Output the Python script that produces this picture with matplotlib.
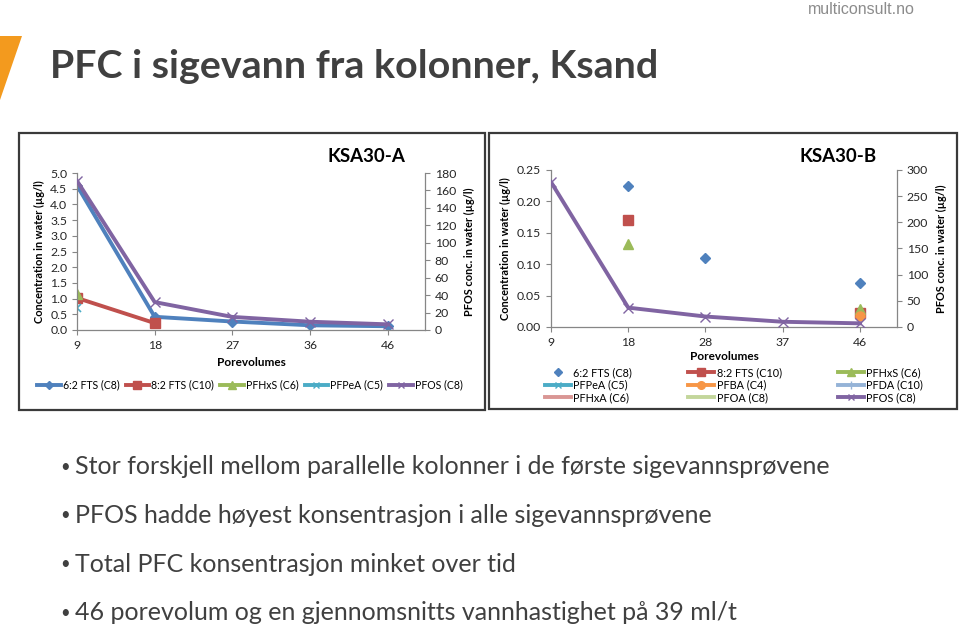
import matplotlib
matplotlib.use("Agg")
import matplotlib.pyplot as plt
import numpy as np
from matplotlib.patches import Rectangle, Polygon
from matplotlib.lines import Line2D

plt.rcParams['font.family'] = ['Lato', 'DejaVu Sans']

# ---------------- data ----------------
cats_a = ["9", "18", "27", "36", "46"]
a_fts62 = [4.6, 0.42, 0.27, 0.15, 0.12]
a_fts82 = [1.02, 0.22, np.nan, np.nan, np.nan]
a_pfhxs = [1.15, np.nan, np.nan, np.nan, np.nan]
a_pfpea = [0.70, np.nan, np.nan, np.nan, np.nan]
a_pfos = [171, 32, 15, 9.5, 6.5]

cats_b = ["9", "18", "28", "37", "46"]
b_fts62 = [np.nan, 0.225, 0.11, np.nan, 0.07]
b_fts82 = [np.nan, 0.17, np.nan, np.nan, 0.022]
b_pfhxs = [np.nan, 0.132, np.nan, np.nan, 0.028]
b_pfba = [np.nan, np.nan, np.nan, np.nan, 0.018]
b_pfos = [277, 37, 20, 10, 7]

title = "PFC i sigevann fra kolonner, Ksand"
bullets = [
    "Stor forskjell mellom parallelle kolonner i de første sigevannsprøvene",
    "PFOS hadde høyest konsentrasjon i alle sigevannsprøvene",
    "Total PFC konsentrasjon minket over tid",
    "46 porevolum og en gjennomsnitts vannhastighet på 39 ml/t",
]

C_BLUE = "#4F81BD"; C_RED = "#C0504D"; C_GREEN = "#9BBB59"; C_CYAN = "#4BACC6"
C_PURPLE = "#8064A2"; C_ORANGE = "#F79646"; C_LBLUE = "#95B3D7"; C_PINK = "#D99694"
C_LGREEN = "#C3D69B"
AXC = "#868686"

W, H = 960, 627
fig = plt.figure(figsize=(W / 100, H / 100), dpi=100)
fig.patch.set_facecolor("white")

def fx(px):
    return px / W

def fy(py):
    return 1 - py / H

# slide decoration
fig.patches.append(Polygon([[fx(0), fy(36)], [fx(22), fy(36)], [fx(0), fy(100)]],
                           closed=True, transform=fig.transFigure, facecolor="#F39A1E",
                           edgecolor="none"))
fig.text(fx(915), fy(10), "multiconsult.no", ha="right", va="center", fontsize=11.5,
         color="#8C8C8C", family=["Liberation Sans Narrow", "Liberation Sans", "DejaVu Sans"])
fig.text(fx(50), fy(66), title, ha="left", va="center", fontsize=28.4, fontweight="bold",
         color="#404040")

# panel borders
for (x0, y0, x1, y1) in [(19, 133, 485, 410), (489, 133, 957, 409)]:
    fig.patches.append(Rectangle((fx(x0), fy(y1)), fx(x1 - x0), (y1 - y0) / H,
                                 transform=fig.transFigure, fill=False,
                                 edgecolor="#3A3A3A", linewidth=1.6))


def style_axes(ax, ax2):
    for a in (ax, ax2):
        a.spines['top'].set_visible(False)
        for s in ('left', 'right', 'bottom'):
            a.spines[s].set_color(AXC)
            a.spines[s].set_linewidth(0.9)
        a.tick_params(colors="#262626", labelsize=8.8, length=3.5, width=0.8)
        a.tick_params(axis='both', color=AXC)
    ax.spines['right'].set_visible(False)
    ax2.spines['left'].set_visible(False)
    ax2.spines['bottom'].set_visible(False)
    ax.set_xlim(0, 4.48)
    ax.tick_params(axis='x', pad=4)


lw = 2.8

# ---------------- KSA30-A ----------------
axA = fig.add_axes([fx(77), fy(330), fx(425 - 77), (330 - 173) / H])
axA.set_facecolor("none")
axA2 = axA.twinx()
xa = np.arange(len(cats_a))
axA.plot(xa, a_fts62, color=C_BLUE, lw=lw, marker="D", ms=5)
axA.plot(xa, a_fts82, color=C_RED, lw=lw, marker="s", ms=7)
axA.plot(xa, a_pfhxs, color=C_GREEN, lw=lw, marker="^", ms=7)
axA.plot(xa, a_pfpea, color=C_CYAN, lw=lw, marker="x", ms=6, mew=1.2)
axA2.plot(xa, a_pfos, color=C_PURPLE, lw=lw, marker="x", ms=7, mew=1.0)
axA.set_ylim(0, 5.0)
axA.set_yticks(np.arange(0, 5.01, 0.5))
axA.set_yticklabels([f"{v:.1f}" for v in np.arange(0, 5.01, 0.5)])
axA2.set_ylim(0, 180)
axA2.set_yticks(np.arange(0, 181, 20))
axA.set_xticks(xa)
axA.set_xticklabels(cats_a)
style_axes(axA, axA2)
axA.set_ylabel("Concentration in water (µg/l)", fontsize=7.9, fontweight="bold", labelpad=4)
axA2.set_ylabel("PFOS conc. in water (µg/l)", fontsize=7.9, fontweight="bold", labelpad=6)
axA.set_xlabel("Porevolumes", fontsize=8.5, fontweight="bold", labelpad=4)
fig.text(fx(366), fy(156), "KSA30-A", ha="center", va="center", fontsize=13.5,
         fontweight="bold", color="black")

hA = [Line2D([], [], color=C_BLUE, lw=lw, marker="D", ms=4.5),
      Line2D([], [], color=C_RED, lw=lw, marker="s", ms=6),
      Line2D([], [], color=C_GREEN, lw=lw, marker="^", ms=6),
      Line2D([], [], color=C_CYAN, lw=lw, marker="x", ms=5),
      Line2D([], [], color=C_PURPLE, lw=lw, marker="x", ms=5)]
lA = ["6:2 FTS (C8)", "8:2 FTS (C10)", "PFHxS (C6)", "PFPeA (C5)", "PFOS (C8)"]
fig.legend(hA, lA, loc="center", bbox_to_anchor=(fx(250), fy(385)), ncol=5, frameon=False,
           fontsize=7.6, handlelength=2.2, handletextpad=0.2, columnspacing=0.6)

# ---------------- KSA30-B ----------------
axB = fig.add_axes([fx(551), fy(327), fx(897 - 551), (327 - 170) / H])
axB.set_facecolor("none")
axB2 = axB.twinx()
xb = np.arange(len(cats_b))
axB.plot(xb, b_fts62, color=C_BLUE, lw=0, marker="D", ms=5.5)
axB.plot(xb, b_fts82, color=C_RED, lw=lw, marker="s", ms=7.5)
axB.plot(xb, b_pfhxs, color=C_GREEN, lw=lw, marker="^", ms=7.5)
axB.plot(xb, b_pfba, color=C_ORANGE, lw=lw, marker="o", ms=6.5)
axB2.plot(xb, b_pfos, color=C_PURPLE, lw=lw, marker="x", ms=7, mew=1.0)
axB.set_ylim(0, 0.25)
axB.set_yticks(np.arange(0, 0.251, 0.05))
axB.set_yticklabels([f"{v:.2f}" for v in np.arange(0, 0.251, 0.05)])
axB2.set_ylim(0, 300)
axB2.set_yticks(np.arange(0, 301, 50))
axB.set_xticks(xb)
axB.set_xticklabels(cats_b)
style_axes(axB, axB2)
axB.set_ylabel("Concentration in water (µg/l)", fontsize=7.9, fontweight="bold", labelpad=4)
axB2.set_ylabel("PFOS conc. in water (µg/l)", fontsize=7.9, fontweight="bold", labelpad=6)
axB.set_xlabel("Porevolumes", fontsize=8.5, fontweight="bold", labelpad=2)
fig.text(fx(838), fy(156), "KSA30-B", ha="center", va="center", fontsize=13.5,
         fontweight="bold", color="black")

hB = [Line2D([], [], color=C_BLUE, lw=0, marker="D", ms=4.5),
      Line2D([], [], color=C_RED, lw=lw, marker="s", ms=6),
      Line2D([], [], color=C_GREEN, lw=lw, marker="^", ms=6),
      Line2D([], [], color=C_CYAN, lw=lw, marker="x", ms=5),
      Line2D([], [], color=C_ORANGE, lw=lw, marker="o", ms=5.5),
      Line2D([], [], color=C_LBLUE, lw=lw, marker="|", ms=6),
      Line2D([], [], color=C_PINK, lw=lw),
      Line2D([], [], color=C_LGREEN, lw=lw),
      Line2D([], [], color=C_PURPLE, lw=lw, marker="x", ms=5)]
lB = ["6:2 FTS (C8)", "8:2 FTS (C10)", "PFHxS (C6)",
      "PFPeA (C5)", "PFBA (C4)", "PFDA (C10)",
      "PFHxA (C6)", "PFOA (C8)", "PFOS (C8)"]
order = [0, 3, 6, 1, 4, 7, 2, 5, 8]
fig.legend([hB[i] for i in order], [lB[i] for i in order], loc="center",
           bbox_to_anchor=(fx(734), fy(385)), ncol=3, frameon=False, fontsize=7.8,
           handlelength=2.4, handletextpad=0.2, columnspacing=5.2, labelspacing=0.12)

# ---------------- bullets ----------------
for i, b in enumerate(bullets):
    y = 467 + i * 48.5
    fig.text(fx(60), fy(y), "•", ha="left", va="center", fontsize=12, color="#404040")
    fig.text(fx(75), fy(y), b, ha="left", va="center", fontsize=18.0, color="#404040")

fig.savefig("out.png", dpi=100)
